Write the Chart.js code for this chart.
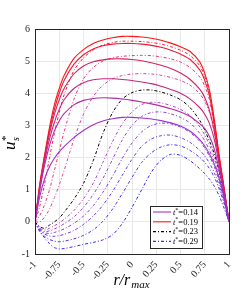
<!DOCTYPE html>
<html>
<head>
<meta charset="utf-8">
<script src="https://cdn.jsdelivr.net/npm/chart.js@4.4.1/dist/chart.umd.min.js"></script>
<style>
  html, body { margin: 0; padding: 0; background: #fff; }
  #wrap { width: 252px; height: 294px; }
</style>
</head>
<body>
<div id="wrap"><canvas id="profiles"></canvas></div>
<script>
// radial positions r/rmax
const rPos = [-1, -0.95, -0.9, -0.85, -0.8, -0.75, -0.7, -0.6, -0.5, -0.4, -0.3, -0.2, -0.1, 0,
  0.1, 0.2, 0.3, 0.4, 0.5, 0.6, 0.7, 0.75, 0.8, 0.85, 0.9, 0.95, 1];

// u*_s profiles, one per t*
const u014 = [0, 0.8, 1.35, 1.72, 1.98, 2.18, 2.34, 2.62, 2.84, 3.02, 3.14, 3.21, 3.25, 3.25, 3.23, 3.2, 3.15, 3.08, 2.98, 2.82, 2.55, 2.36, 2.1, 1.78, 1.33, 0.74, 0];
const u015 = [0, 1.0, 1.78, 2.38, 2.83, 3.14, 3.37, 3.64, 3.78, 3.84, 3.86, 3.85, 3.82, 3.78, 3.73, 3.67, 3.6, 3.52, 3.42, 3.28, 3.05, 2.9, 2.65, 2.25, 1.6, 0.85, 0];
const u016 = [0, 1.05, 1.9, 2.58, 3.1, 3.5, 3.8, 4.15, 4.33, 4.42, 4.45, 4.45, 4.43, 4.4, 4.35, 4.3, 4.22, 4.12, 4.0, 3.82, 3.55, 3.35, 3.05, 2.55, 1.75, 0.9, 0];
const u017 = [0, 1.1, 2.0, 2.75, 3.35, 3.8, 4.15, 4.6, 4.85, 4.98, 5.04, 5.07, 5.07, 5.05, 5.01, 4.95, 4.87, 4.77, 4.63, 4.43, 4.12, 3.87, 3.45, 2.8, 1.85, 0.95, 0];
const u018 = [0, 1.15, 2.05, 2.85, 3.5, 4.0, 4.4, 4.9, 5.2, 5.38, 5.48, 5.53, 5.55, 5.55, 5.53, 5.49, 5.43, 5.34, 5.22, 5.05, 4.72, 4.4, 3.9, 3.0, 1.95, 1.0, 0];
const u019 = [0, 1.2, 2.1, 2.95, 3.65, 4.15, 4.55, 5.08, 5.36, 5.55, 5.66, 5.73, 5.77, 5.77, 5.75, 5.71, 5.65, 5.56, 5.45, 5.3, 4.97, 4.62, 4.08, 3.15, 2.05, 1.05, 0];
const u020 = [0, 0.5, 1.2, 2.0, 2.75, 3.4, 3.95, 4.7, 5.1, 5.35, 5.5, 5.58, 5.62, 5.62, 5.61, 5.58, 5.53, 5.45, 5.34, 5.17, 4.85, 4.52, 4.0, 3.1, 2.0, 1.02, 0];
const u021 = [0, 0.2, 0.55, 1.0, 1.6, 2.2, 2.8, 3.8, 4.45, 4.8, 5.0, 5.1, 5.15, 5.17, 5.18, 5.17, 5.13, 5.07, 4.97, 4.8, 4.5, 4.22, 3.78, 2.95, 1.95, 1.0, 0];
const u022 = [0, 0.0, 0.15, 0.4, 0.75, 1.15, 1.6, 2.55, 3.35, 3.9, 4.25, 4.45, 4.55, 4.6, 4.61, 4.6, 4.56, 4.49, 4.4, 4.25, 3.98, 3.75, 3.4, 2.75, 1.85, 0.95, 0];
const u023 = [0, -0.15, -0.2, -0.1, 0.0, 0.12, 0.3, 0.7, 1.2, 1.9, 2.75, 3.4, 3.82, 4.02, 4.1, 4.1, 4.04, 3.94, 3.8, 3.55, 3.15, 2.85, 2.5, 2.1, 1.55, 0.8, 0];
const u024 = [0, -0.2, -0.25, -0.2, -0.12, -0.03, 0.08, 0.35, 0.72, 1.2, 1.85, 2.5, 3.05, 3.42, 3.65, 3.72, 3.7, 3.62, 3.5, 3.3, 2.95, 2.7, 2.38, 1.98, 1.45, 0.78, 0];
const u025 = [0, -0.22, -0.3, -0.28, -0.22, -0.15, -0.06, 0.15, 0.45, 0.85, 1.35, 1.95, 2.55, 3.0, 3.28, 3.4, 3.42, 3.36, 3.25, 3.07, 2.75, 2.52, 2.22, 1.85, 1.35, 0.72, 0];
const u026 = [0, -0.24, -0.34, -0.36, -0.33, -0.28, -0.22, -0.05, 0.18, 0.5, 0.92, 1.42, 1.98, 2.45, 2.8, 3.0, 3.07, 3.05, 2.95, 2.78, 2.5, 2.3, 2.03, 1.7, 1.25, 0.68, 0];
const u027 = [0, -0.26, -0.38, -0.44, -0.45, -0.43, -0.39, -0.27, -0.08, 0.18, 0.52, 0.95, 1.45, 1.95, 2.35, 2.58, 2.68, 2.7, 2.62, 2.47, 2.22, 2.05, 1.82, 1.52, 1.12, 0.62, 0];
const u028 = [0, -0.3, -0.45, -0.55, -0.6, -0.62, -0.6, -0.53, -0.42, -0.25, 0.02, 0.4, 0.88, 1.38, 1.85, 2.15, 2.33, 2.4, 2.36, 2.22, 2.0, 1.85, 1.65, 1.38, 1.02, 0.56, 0];
const u029 = [0, -0.3, -0.5, -0.68, -0.8, -0.84, -0.83, -0.77, -0.7, -0.64, -0.56, -0.4, -0.05, 0.45, 1.0, 1.55, 1.92, 2.1, 2.07, 1.9, 1.65, 1.5, 1.32, 1.1, 0.8, 0.42, 0];

const tStar = [0.14, 0.15, 0.16, 0.17, 0.18, 0.19, 0.20, 0.21, 0.22, 0.23, 0.24, 0.25, 0.26, 0.27, 0.28, 0.29];
const profiles = [u014, u015, u016, u017, u018, u019, u020, u021, u022, u023, u024, u025, u026, u027, u028, u029];

const xTickLabels = ['-1', '-0.75', '-0.5', '-0.25', '0', '0.25', '0.5', '0.75', '1'];
const yTickLabels = ['-1', '0', '1', '2', '3', '4', '5', '6'];

// legend entries shown in the box
const legendT = [0.14, 0.19, 0.23, 0.29];

const lineColors = [
  'rgb(160,50,200)', 'rgb(179,44,164)', 'rgb(198,38,128)', 'rgb(217,32,92)', 'rgb(236,26,56)', 'rgb(255,20,20)',
  'rgb(240,30,60)', 'rgb(225,55,120)', 'rgb(210,70,160)', 'rgb(0,0,0)', 'rgb(176,70,196)', 'rgb(150,66,210)',
  'rgb(128,62,222)', 'rgb(104,56,234)', 'rgb(80,48,244)', 'rgb(50,40,255)'
];
const DASHDOT = [3, 2, 1, 2];

const datasets = profiles.map((u, i) => ({
  label: 't*=' + tStar[i].toFixed(2),
  data: rPos.map((r, k) => ({ x: r, y: u[k] })),
  borderColor: lineColors[i],
  borderWidth: tStar[i] <= 0.19 ? 1.1 : 1,
  borderDash: tStar[i] <= 0.19 ? [] : DASHDOT,
  pointRadius: 0,
  showLine: true,
  fill: false,
  tension: 0.3,
}));

const serif = '"Liberation Serif", "DejaVu Serif", serif';

const decor = {
  id: 'decor',
  afterDraw(chart) {
    const ctx = chart.ctx;
    const a = chart.chartArea;
    ctx.save();
    // axes box
    ctx.strokeStyle = '#262626';
    ctx.lineWidth = 1;
    ctx.strokeRect(Math.round(a.left) + 0.5, Math.round(a.top) + 0.5,
      Math.round(a.right - a.left), Math.round(a.bottom - a.top));

    // x title r/r_max
    ctx.fillStyle = '#000';
    ctx.textBaseline = 'alphabetic';
    ctx.font = 'italic 16px ' + serif;
    const main = 'r/r';
    const wMain = ctx.measureText(main).width;
    ctx.font = 'italic 11px ' + serif;
    const wSub = ctx.measureText('max').width;
    let x0 = 131 - (wMain + wSub) / 2;
    ctx.font = 'italic 16px ' + serif;
    ctx.fillText(main, x0, 285);
    ctx.font = 'italic 11px ' + serif;
    ctx.fillText('max', x0 + wMain + 1, 288);

    // y title u*_s (rotated)
    ctx.save();
    ctx.translate(15, 150);
    ctx.rotate(-Math.PI / 2);
    ctx.font = 'italic 17px ' + serif;
    ctx.fillText('u', 0, 0);
    const wu = ctx.measureText('u').width;
    ctx.font = '11px ' + serif;
    ctx.fillText('*', wu + 0.5, -6);
    ctx.font = 'italic 10px ' + serif;
    ctx.fillText('s', wu + 0.5, 4);
    ctx.restore();

    // legend box
    const bx = 150.5, by = 206.5, bw = 52, bh = 42;
    ctx.fillStyle = '#fff';
    ctx.fillRect(bx, by, bw, bh);
    ctx.strokeStyle = '#262626';
    ctx.strokeRect(bx, by, bw, bh);
    legendT.forEach((t, j) => {
      const i = tStar.indexOf(t);
      const ds = chart.data.datasets[i];
      const yy = 212 + j * 9.8;
      ctx.beginPath();
      ctx.strokeStyle = ds.borderColor;
      ctx.lineWidth = 1.1;
      ctx.setLineDash(ds.borderDash);
      ctx.moveTo(153, yy);
      ctx.lineTo(171, yy);
      ctx.stroke();
      ctx.setLineDash([]);
      ctx.fillStyle = '#000';
      ctx.textBaseline = 'middle';
      ctx.font = 'italic 8.5px ' + serif;
      ctx.fillText('t', 173, yy + 0.5);
      const wt = ctx.measureText('t').width;
      ctx.font = '6px ' + serif;
      ctx.fillText('*', 173 + wt, yy - 2);
      ctx.font = '8.5px ' + serif;
      ctx.fillText('=' + t.toFixed(2), 173 + wt + 3, yy + 0.5);
    });
    ctx.restore();
  }
};

new Chart(document.getElementById('profiles'), {
  type: 'scatter',
  data: { datasets },
  options: {
    responsive: true,
    maintainAspectRatio: false,
    animation: false,
    devicePixelRatio: 1,
    layout: { padding: { left: 0, right: 23, top: 29, bottom: 0 } },
    scales: {
      x: {
        type: 'linear',
        min: -1,
        max: 1,
        afterFit: (s) => { s.height = 40; },
        grid: { color: '#e8e8e8', drawTicks: false },
        border: { display: false },
        ticks: {
          stepSize: 0.25,
          padding: 5,
          color: '#262626',
          font: { family: serif, size: 10 },
          callback: (v, idx) => xTickLabels[idx],
        },
      },
      y: {
        min: -1,
        max: 6,
        afterFit: (s) => { s.width = 35; },
        grid: { color: '#e8e8e8', drawTicks: false },
        border: { display: false },
        ticks: {
          stepSize: 1,
          padding: 5,
          color: '#262626',
          font: { family: serif, size: 10 },
          callback: (v, idx) => yTickLabels[idx],
        },
      },
    },
    plugins: {
      legend: { display: false },
      tooltip: { enabled: false },
    },
  },
  plugins: [decor],
});
</script>
</body>
</html>
